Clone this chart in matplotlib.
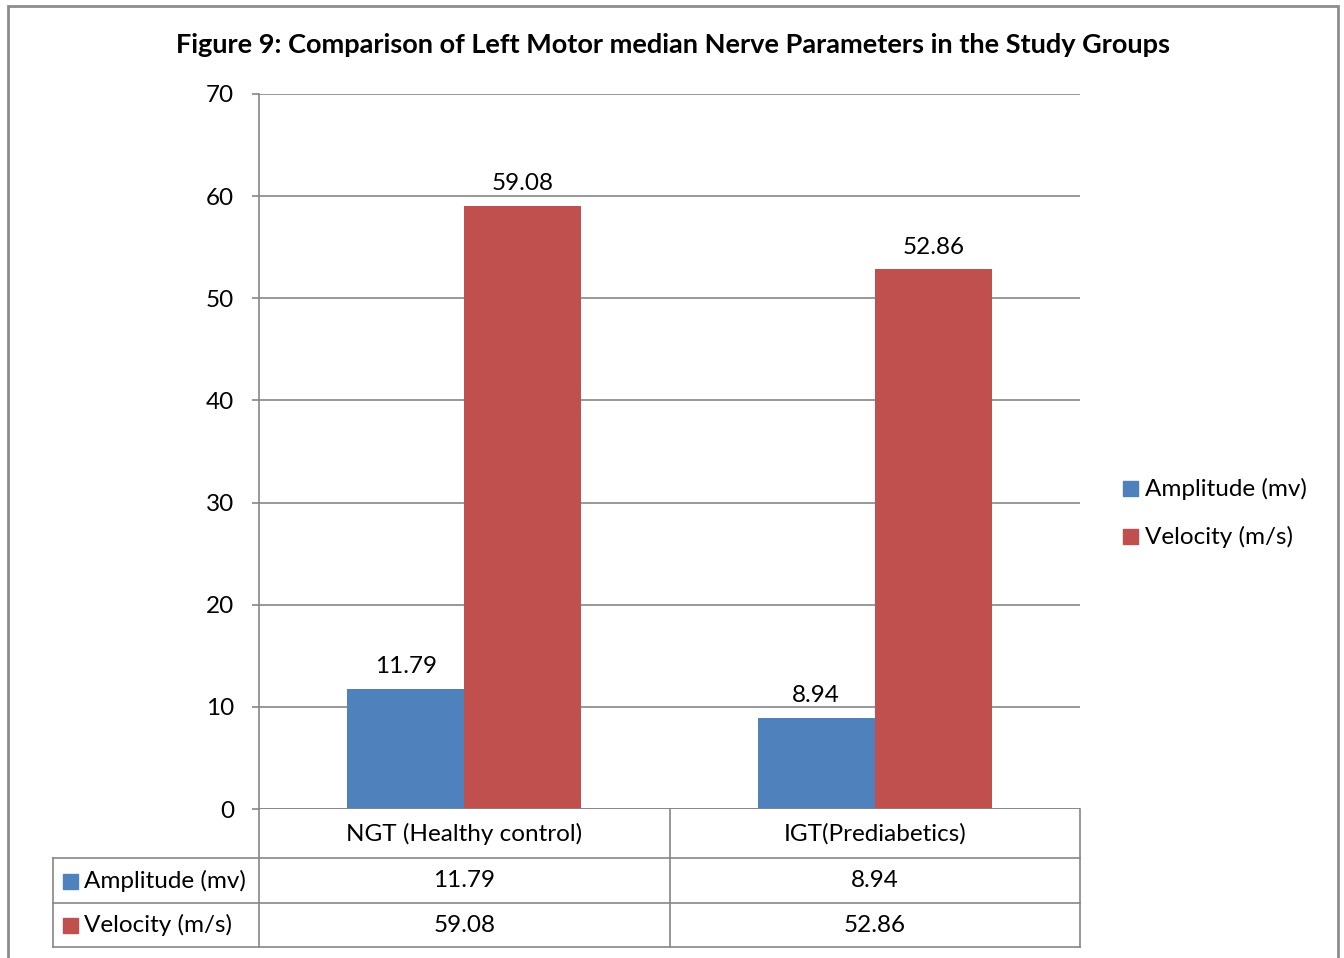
import matplotlib.pyplot as plt
import numpy as np
from matplotlib.patches import Rectangle

plt.rcParams['font.family'] = ['Lato', 'DejaVu Sans']

groups = ["NGT (Healthy control)", "IGT(Prediabetics)"]
series = ["Amplitude (mv)", "Velocity (m/s)"]
amplitude = [11.79, 8.94]
velocity = [59.08, 52.86]
colors = ['#4F81BD', '#C0504D']
grid_c = '#868686'
fs = 17.5

W, H = 1344, 958
fig = plt.figure(figsize=(W / 100, H / 100), dpi=100)

# pixel layout helpers
def fx(x):
    return x / W

def fy(y):
    return 1 - y / H

# plot area
L, R, T, B = 259, 1080, 94, 809
ax = fig.add_axes([fx(L), fy(B), fx(R - L), (B - T) / H])
x = np.arange(len(groups))
bw = 0.285
vals = [amplitude, velocity]
for i, (s, v) in enumerate(zip(series, vals)):
    pos = x + (i - 0.5) * bw
    ax.bar(pos, v, bw, color=colors[i], label=s, zorder=3)
    for p, val in zip(pos, v):
        ax.text(p, val + 1.1, f"{val:.2f}", ha='center', va='bottom', fontsize=fs)

ax.set_xlim(-0.5, len(groups) - 0.5)
ax.set_ylim(0, 70)
ax.set_yticks(range(0, 71, 10))
ax.yaxis.grid(True, color=grid_c, linewidth=1.2, zorder=0)
ax.set_xticks([])
for sp in ['top', 'right', 'bottom']:
    ax.spines[sp].set_visible(False)
ax.spines['left'].set_color(grid_c)
ax.spines['left'].set_linewidth(1.2)
ax.tick_params(axis='y', length=5, color=grid_c, width=1.2, labelsize=fs, pad=13)
ax.axhline(0, color=grid_c, linewidth=1.2, zorder=4)

# title
fig.text(fx(673), fy(45), "Figure 9: Comparison of Left Motor median Nerve Parameters in the Study Groups",
         ha='center', va='center', fontsize=19.5, fontweight='bold')

# legend on right
for i, s in enumerate(series):
    yy = 489 + i * 48
    fig.patches.append(Rectangle((fx(1123), fy(yy + 7)), fx(15), 15 / H, color=colors[i],
                                 transform=fig.transFigure))
    fig.text(fx(1145), fy(yy), s, ha='left', va='center', fontsize=fs)

# data table under the axis
tl = dict(color=grid_c, linewidth=1.2, transform=fig.transFigure)
col_x = [L, 670, R]
row_y = [B, 858, 903, 947]
for ry in row_y[1:]:
    fig.add_artist(plt.Line2D([fx(53), fx(R)], [fy(ry), fy(ry)], **tl))
fig.add_artist(plt.Line2D([fx(53), fx(53)], [fy(858), fy(947)], **tl))
for cx in col_x:
    fig.add_artist(plt.Line2D([fx(cx), fx(cx)], [fy(B), fy(947)], **tl))

for j, g in enumerate(groups):
    cx = (col_x[j] + col_x[j + 1]) / 2
    fig.text(fx(cx), fy((row_y[0] + row_y[1]) / 2), g, ha='center', va='center', fontsize=fs)
    for i in range(len(series)):
        cy = (row_y[i + 1] + row_y[i + 2]) / 2
        fig.text(fx(cx), fy(cy), f"{vals[i][j]:.2f}", ha='center', va='center', fontsize=fs)

for i, s in enumerate(series):
    cy = (row_y[i + 1] + row_y[i + 2]) / 2
    fig.patches.append(Rectangle((fx(63), fy(cy + 8)), fx(15), 15 / H, color=colors[i],
                                 transform=fig.transFigure))
    fig.text(fx(84), fy(cy), s, ha='left', va='center', fontsize=fs)

# outer chart frame
fig.patches.append(Rectangle((fx(8), fy(H + 5)), fx(1330), (H - 1) / H, fill=False,
                             edgecolor='#8c8c8c', linewidth=2, transform=fig.transFigure))

fig.savefig("out.png", dpi=100)
